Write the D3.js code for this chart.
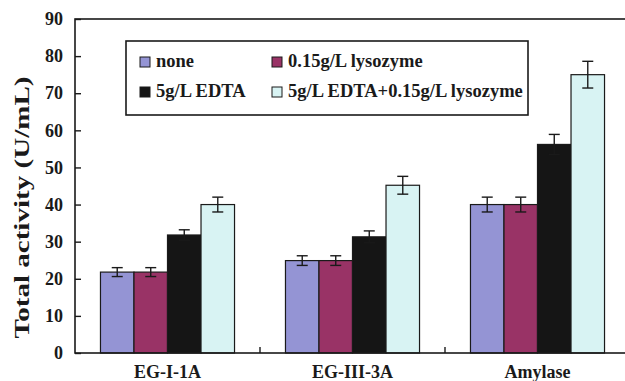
<!DOCTYPE html>
<html><head><meta charset="utf-8">
<script src="https://cdn.jsdelivr.net/npm/d3@7"></script>
<style>body{margin:0;background:#fff}svg{display:block}text{font-family:"Liberation Serif","Times New Roman",serif;font-weight:bold;fill:#1a1a1a}</style>
</head><body><svg id="c" width="625" height="381"></svg>
<script>
const categories = ["EG-I-1A", "EG-III-3A", "Amylase"];
const seriesNames = ["none", "0.15g/L lysozyme", "5g/L EDTA", "5g/L EDTA+0.15g/L lysozyme"];
const noneVals = [21.8, 24.9, 40.0];
const lysoVals = [21.8, 24.9, 40.0];
const edtaVals = [31.8, 31.3, 56.2];
const comboVals = [40.0, 45.2, 75.0];
const noneErr = [1.2, 1.3, 2.0];
const lysoErr = [1.2, 1.3, 2.0];
const edtaErr = [1.4, 1.6, 2.7];
const comboErr = [2.0, 2.4, 3.6];
const yTicks = [0, 10, 20, 30, 40, 50, 60, 70, 80, 90];
const colors = ["#9494d4", "#993366", "#151515", "#d8f3f3"];
const yTitle = "Total activity (U/mL)";

const values = [noneVals, lysoVals, edtaVals, comboVals];
const errs = [noneErr, lysoErr, edtaErr, comboErr];

const svg = d3.select("#c");
const L = 75, R = 630, T = 19, B = 353;
const x0 = d3.scaleBand().domain(categories).range([L, R]).padding(0);
const x1 = d3.scaleBand().domain(d3.range(4)).range([0, x0.bandwidth()]).paddingInner(0).paddingOuter(0.76);
const y = d3.scaleLinear().domain([0, 90]).range([B, T]);
const ink = "#1a1a1a";

// bars
const g = svg.append("g");
categories.forEach((c, ci) => {
  values.forEach((vals, si) => {
    g.append("rect")
      .attr("x", x0(c) + x1(si))
      .attr("y", y(vals[ci]))
      .attr("width", x1.bandwidth())
      .attr("height", y(0) - y(vals[ci]))
      .attr("fill", colors[si])
      .attr("stroke", ink).attr("stroke-width", 1.2);
  });
});
// error bars
categories.forEach((c, ci) => {
  values.forEach((vals, si) => {
    const cx = x0(c) + x1(si) + x1.bandwidth() / 2;
    const v = vals[ci], e = errs[si][ci];
    const col = si === 2 ? ink : ink;
    const eg = g.append("g").attr("stroke", col).attr("stroke-width", 1.4);
    eg.append("line").attr("x1", cx).attr("x2", cx).attr("y1", y(v + e)).attr("y2", y(v - e));
    eg.append("line").attr("x1", cx - 5.5).attr("x2", cx + 5.5).attr("y1", y(v + e)).attr("y2", y(v + e));
    eg.append("line").attr("x1", cx - 5.5).attr("x2", cx + 5.5).attr("y1", y(v - e)).attr("y2", y(v - e));
  });
});

// frame
svg.append("rect").attr("x", L).attr("y", T).attr("width", R - L).attr("height", B - T)
  .attr("fill", "none").attr("stroke", ink).attr("stroke-width", 1.6);

// y axis
const yAxis = d3.axisLeft(y).tickValues(yTicks).tickSizeInner(-6).tickSizeOuter(0).tickPadding(12);
const ya = svg.append("g").attr("transform", `translate(${L},0)`).call(yAxis);
ya.select(".domain").remove();
ya.selectAll(".tick line").attr("stroke", ink).attr("stroke-width", 1.4);
ya.selectAll(".tick text").attr("font-size", 18).attr("font-family", "Liberation Serif").attr("font-weight", "bold").attr("fill", ink);

// x axis
const xAxis = d3.axisBottom(x0).tickSize(0).tickPadding(12);
const xa = svg.append("g").attr("transform", `translate(0,${B})`).call(xAxis);
xa.select(".domain").remove();
xa.selectAll(".tick text").attr("font-size", 18).attr("font-family", "Liberation Serif").attr("font-weight", "bold").attr("fill", ink);
categories.slice(1).forEach(c => {
  svg.append("line").attr("x1", x0(c)).attr("x2", x0(c)).attr("y1", B).attr("y2", B - 6)
    .attr("stroke", ink).attr("stroke-width", 1.4);
});

// y title
svg.append("text").attr("transform", `translate(29,${(75 + 340) / 2}) rotate(-90)`)
  .attr("text-anchor", "middle").attr("font-size", 22)
  .attr("textLength", 262).attr("lengthAdjust", "spacingAndGlyphs")
  .text(yTitle);

// legend
svg.append("rect").attr("x", 126).attr("y", 41).attr("width", 402).attr("height", 74)
  .attr("fill", "#fff").attr("stroke", ink).attr("stroke-width", 1.6);
const legPos = [[140, 67], [272, 67], [140, 97], [272, 97]];
seriesNames.forEach((n, i) => {
  const [lx, ly] = legPos[i];
  svg.append("rect").attr("x", lx).attr("y", ly - 10).attr("width", 10).attr("height", 10)
    .attr("fill", colors[i]).attr("stroke", ink).attr("stroke-width", 1);
  svg.append("text").attr("x", lx + 16).attr("y", ly).attr("font-size", 18.5).text(n);
});
</script></body></html>
